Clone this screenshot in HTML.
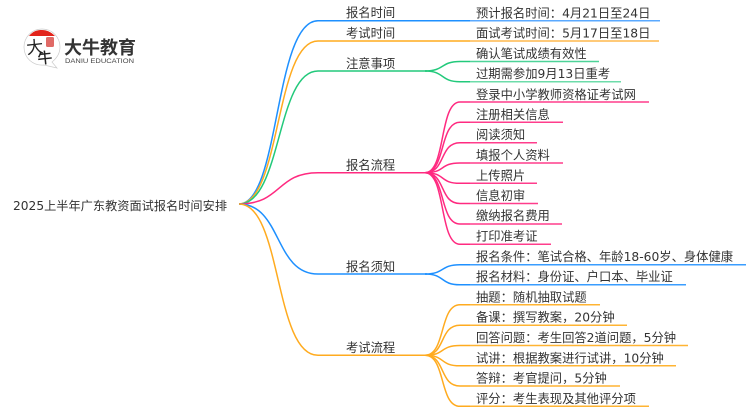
<!DOCTYPE html>
<html><head><meta charset="utf-8">
<style>
html,body{margin:0;padding:0;background:#fff}
svg{display:block}
text{font-family:"DejaVu Sans","WenQuanYi Zen Hei","Noto Sans CJK SC",sans-serif;fill:#333;font-size:12.3px}
.l{font-family:"Liberation Sans","Noto Sans CJK SC",sans-serif;font-weight:700;fill:#333}
path{fill:none}
</style></head><body>
<svg width="750" height="410" viewBox="0 0 750 410" xmlns="http://www.w3.org/2000/svg">
<!-- logo -->
<path d="M42,29 C31,29 24,38 24,47 C24,58 33,66 44,65 L57,68 L52,62 C57,58 60,53 60,47 C60,38 53,29 42,29 Z" style="fill:#fff;stroke:#ccc;stroke-width:.7"/>
<path d="M29,36 C33,31 37,30 42,30 C47,30 51,32 55,36 Z" style="fill:#e2231a"/>
<rect x="46" y="37" width="8" height="10" rx="1.5" style="fill:#e06a66"/>
<text transform="translate(27,54) rotate(-6)" style="font-size:17px;font-family:'Noto Sans CJK SC',sans-serif;font-weight:400;fill:#222">大</text>
<text transform="translate(38,64) rotate(-6)" style="font-size:15px;font-family:'Noto Sans CJK SC',sans-serif;font-weight:500;fill:#222">牛</text>
<text x="64" y="54" class="l" style="font-size:18px;font-family:'Noto Sans CJK SC',sans-serif" textLength="72" lengthAdjust="spacingAndGlyphs">大牛教育</text>
<text x="65" y="63" style="font-size:6.4px;font-family:'Liberation Sans',sans-serif;fill:#444" textLength="69" lengthAdjust="spacingAndGlyphs">DANIU EDUCATION</text>

<!-- root connectors -->
<g stroke-width="1.5">
<path stroke="#1e90ff" d="M239,204 C280,204 274,20.7 318,20.7 H470"/>
<path stroke="#ffab1f" d="M239,204 C281,204 275,41 318,41 H470"/>
<path stroke="#22c97b" d="M239,204 C282,204 276,71 318,71 H427"/>
<path stroke="#ff2a80" d="M239,204 C282,204 276,172.7 318,172.7 H427"/>
<path stroke="#1e90ff" d="M239,204 C282,204 274,274 318,274 H427"/>
<path stroke="#ffab1f" d="M239,204 C282,204 274,355.3 318,355.3 H427"/>
</g>
<!-- child connectors -->
<g stroke-width="1.5">
<path stroke="#22c97b" d="M425,71 C445,71 440,61.5 460,61.5 H470"/>
<path stroke="#22c97b" d="M425,71 C445,71 440,81.7 460,81.7 H470"/>
<g stroke="#ff2a80">
<path d="M425,172.7 C446,172.7 439,102 460,102 H470"/>
<path d="M425,172.7 C446,172.7 439,122.3 460,122.3 H470"/>
<path d="M425,172.7 C446,172.7 439,142.7 460,142.7 H470"/>
<path d="M425,172.7 C446,172.7 439,163 460,163 H470"/>
<path d="M425,172.7 C446,172.7 439,183.3 460,183.3 H470"/>
<path d="M425,172.7 C446,172.7 439,203.5 460,203.5 H470"/>
<path d="M425,172.7 C446,172.7 439,224 460,224 H470"/>
<path d="M425,172.7 C446,172.7 439,244.3 460,244.3 H470"/>
</g>
<path stroke="#1e90ff" d="M425,274 C445,274 440,264.7 460,264.7 H470"/>
<path stroke="#1e90ff" d="M425,274 C445,274 440,284.8 460,284.8 H470"/>
<g stroke="#ffab1f">
<path d="M425,355.3 C446,355.3 439,304.8 460,304.8 H470"/>
<path d="M425,355.3 C446,355.3 439,325.2 460,325.2 H470"/>
<path d="M425,355.3 C446,355.3 439,345.5 460,345.5 H470"/>
<path d="M425,355.3 C446,355.3 439,365.8 460,365.8 H470"/>
<path d="M425,355.3 C446,355.3 439,386 460,386 H470"/>
<path d="M425,355.3 C446,355.3 439,406.3 460,406.3 H470"/>
</g>
</g>
<!-- leaf underlines -->
<g stroke-width="1.5">
<path stroke="#5aa9ff" d="M470,20.7 H660"/>
<path stroke="#ffb94d" d="M470,41 H659"/>
<path stroke="#4dd398" d="M470,61.5 H599"/>
<path stroke="#6ddcaa" d="M470,81.7 H621"/>
<g stroke="#ff3d8c">
<path d="M470,102 H649"/><path d="M470,122.3 H563"/><path d="M470,142.7 H537"/><path d="M470,163 H563"/>
<path d="M470,183.3 H537"/><path d="M470,203.5 H538"/><path d="M470,224 H562"/><path d="M470,244.3 H551"/>
</g>
<path stroke="#3a9dff" d="M470,264.7 H746"/>
<path stroke="#3a9dff" d="M470,284.8 H686"/>
<g stroke="#ffb433">
<path d="M470,304.8 H600"/><path d="M470,325.2 H627"/><path d="M470,345.5 H688"/><path d="M470,365.8 H676"/><path d="M470,386 H620"/><path d="M470,406.3 H649"/>
</g>
</g>
<!-- labels -->
<text x="13" y="210" style="font-size:12.2px" textLength="214">2025上半年广东教资面试报名时间安排</text>
<text x="346" y="17">报名时间</text>
<text x="346" y="37.5">考试时间</text>
<text x="346" y="68">注意事项</text>
<text x="346" y="169.5">报名流程</text>
<text x="346" y="271">报名须知</text>
<text x="346" y="352">考试流程</text>

<text x="476" y="17.5">预计报名时间：4月21日至24日</text>
<text x="476" y="37.7">面试考试时间：5月17日至18日</text>
<text x="476" y="58">确认笔试成绩有效性</text>
<text x="476" y="78">过期需参加9月13日重考</text>
<text x="476" y="99">登录中小学教师资格证考试网</text>
<text x="476" y="119">注册相关信息</text>
<text x="476" y="139">阅读须知</text>
<text x="476" y="159.7">填报个人资料</text>
<text x="476" y="180">上传照片</text>
<text x="476" y="200">信息初审</text>
<text x="476" y="220">缴纳报名费用</text>
<text x="476" y="240.7">打印准考证</text>
<text x="476" y="261">报名条件：笔试合格、年龄18-60岁、身体健康</text>
<text x="476" y="281">报名材料：身份证、户口本、毕业证</text>
<text x="476" y="301.7">抽题：随机抽取试题</text>
<text x="476" y="321.7">备课：撰写教案，20分钟</text>
<text x="476" y="342">回答问题：考生回答2道问题，5分钟</text>
<text x="476" y="362.7">试讲：根据教案进行试讲，10分钟</text>
<text x="476" y="382.7">答辩：考官提问，5分钟</text>
<text x="476" y="403">评分：考生表现及其他评分项</text>
</svg>
</body></html>
